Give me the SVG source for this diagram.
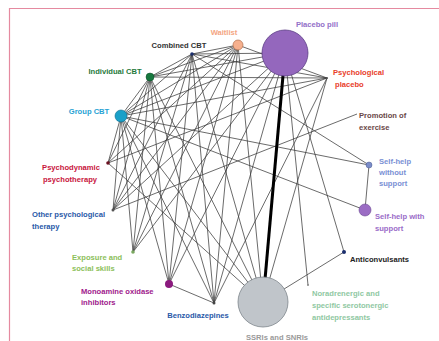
<svg xmlns="http://www.w3.org/2000/svg" width="439" height="341" viewBox="0 0 439 341">
<style>
.e{stroke:#3a3a3a;stroke-width:0.75;fill:none}
.t{font-family:"Liberation Sans",Arial,sans-serif;font-size:7.6px;font-weight:bold}
.c{text-anchor:middle}
</style>
<rect x="0" y="0" width="439" height="341" fill="#ffffff"/>
<path d="M9.5 341 V8.5 H439" fill="none" stroke="#e58aa0" stroke-width="1.2"/>
<g id="connectors">
<line class="e" x1="238" y1="45" x2="192" y2="54"/>
<line class="e" x1="238" y1="45" x2="150" y2="77"/>
<line class="e" x1="238" y1="45" x2="121" y2="116"/>
<line class="e" x1="238" y1="45" x2="108" y2="163"/>
<line class="e" x1="238" y1="45" x2="113" y2="210"/>
<line class="e" x1="238" y1="45" x2="133" y2="252"/>
<line class="e" x1="238" y1="45" x2="169" y2="284"/>
<line class="e" x1="238" y1="45" x2="214" y2="303"/>
<line class="e" x1="238" y1="45" x2="263" y2="302"/>
<line class="e" x1="238" y1="45" x2="327" y2="78"/>
<line class="e" x1="192" y1="54" x2="150" y2="77"/>
<line class="e" x1="192" y1="54" x2="121" y2="116"/>
<line class="e" x1="192" y1="54" x2="285" y2="53"/>
<line class="e" x1="192" y1="54" x2="327" y2="78"/>
<line class="e" x1="192" y1="54" x2="113" y2="210"/>
<line class="e" x1="192" y1="54" x2="133" y2="252"/>
<line class="e" x1="192" y1="54" x2="169" y2="284"/>
<line class="e" x1="192" y1="54" x2="214" y2="303"/>
<line class="e" x1="192" y1="54" x2="263" y2="302"/>
<line class="e" x1="192" y1="54" x2="369" y2="165"/>
<line class="e" x1="150" y1="77" x2="121" y2="116"/>
<line class="e" x1="150" y1="77" x2="285" y2="53"/>
<line class="e" x1="150" y1="77" x2="327" y2="78"/>
<line class="e" x1="150" y1="77" x2="108" y2="163"/>
<line class="e" x1="150" y1="77" x2="113" y2="210"/>
<line class="e" x1="150" y1="77" x2="133" y2="252"/>
<line class="e" x1="150" y1="77" x2="169" y2="284"/>
<line class="e" x1="150" y1="77" x2="214" y2="303"/>
<line class="e" x1="150" y1="77" x2="263" y2="302"/>
<line class="e" x1="121" y1="116" x2="285" y2="53"/>
<line class="e" x1="121" y1="116" x2="327" y2="78"/>
<line class="e" x1="121" y1="116" x2="108" y2="163"/>
<line class="e" x1="121" y1="116" x2="113" y2="210"/>
<line class="e" x1="121" y1="116" x2="133" y2="252"/>
<line class="e" x1="121" y1="116" x2="169" y2="284"/>
<line class="e" x1="121" y1="116" x2="214" y2="303"/>
<line class="e" x1="121" y1="116" x2="263" y2="302"/>
<line class="e" x1="121" y1="116" x2="365" y2="210"/>
<line class="e" x1="121" y1="116" x2="369" y2="165"/>
<line class="e" x1="108" y1="163" x2="327" y2="78"/>
<line class="e" x1="108" y1="163" x2="263" y2="302"/>
<line class="e" x1="113" y1="210" x2="357" y2="114"/>
<line class="e" x1="113" y1="210" x2="285" y2="53"/>
<line class="e" x1="133" y1="252" x2="285" y2="53"/>
<line class="e" x1="169" y1="284" x2="285" y2="53"/>
<line class="e" x1="169" y1="284" x2="214" y2="303"/>
<line class="e" x1="214" y1="303" x2="285" y2="53"/>
<line class="e" x1="214" y1="303" x2="327" y2="78"/>
<line class="e" x1="263" y1="302" x2="327" y2="78"/>
<line class="e" x1="285" y1="53" x2="344" y2="252"/>
<line class="e" x1="285" y1="53" x2="308" y2="285"/>
<line class="e" x1="263" y1="302" x2="344" y2="252"/>
<line class="e" x1="369" y1="165" x2="365" y2="210"/>
<line x1="285" y1="53" x2="263" y2="302" stroke="#000" stroke-width="3"/>
</g>
<g id="placebo-pill"><circle cx="285" cy="53" r="23" fill="#9467bd" stroke="#5c3d85" stroke-width="0.8"/><text class="t c" x="317" y="27" fill="#9370c8">Placebo pill</text></g>
<g id="waitlist"><circle cx="238" cy="45" r="5" fill="#f6b08e" stroke="#b0704e" stroke-width="0.7"/><text class="t c" x="224" y="35" fill="#f4a582">Waitlist</text></g>
<g id="combined-cbt"><circle cx="192" cy="54" r="1.8" fill="#1c2f6e"/><text class="t c" x="179" y="48" fill="#333333">Combined CBT</text></g>
<g id="individual-cbt"><circle cx="150" cy="77" r="4" fill="#16783e" stroke="#0c4a26" stroke-width="0.5"/><text class="t c" x="115" y="74" fill="#1f7a3c">Individual CBT</text></g>
<g id="group-cbt"><circle cx="121" cy="116" r="6" fill="#1aa0c8" stroke="#0b6a8a" stroke-width="0.6"/><text class="t c" x="89" y="114" fill="#27a2d4">Group CBT</text></g>
<g id="psychodynamic"><circle cx="108" cy="163" r="1.8" fill="#6a1020"/><text class="t c" x="71" y="170" fill="#c8143c">Psychodynamic</text><text class="t c" x="70" y="182" fill="#c8143c">psychotherapy</text></g>
<g id="other-psych"><circle cx="113" cy="210" r="1.5" fill="#555"/><text class="t" x="32" y="217" fill="#2a5aa8">Other psychological</text><text class="t" x="32" y="229" fill="#2a5aa8">therapy</text></g>
<g id="exposure"><circle cx="133" cy="252" r="1.8" fill="#7aa860"/><text class="t" x="72" y="260" fill="#8cc05a">Exposure and</text><text class="t" x="72" y="271" fill="#8cc05a">social skills</text></g>
<g id="maoi"><circle cx="169" cy="284" r="4" fill="#8b1a7e"/><text class="t" x="81" y="294" fill="#a0208c">Monoamine oxidase</text><text class="t" x="81" y="305" fill="#a0208c">inhibitors</text></g>
<g id="benzodiazepines"><circle cx="214" cy="303" r="1.5" fill="#444"/><text class="t c" x="198" y="318" fill="#2a5aa8">Benzodiazepines</text></g>
<g id="ssris"><circle cx="263" cy="302" r="25" fill="#c0c5ca" stroke="#7d858c" stroke-width="0.8"/><text class="t c" x="277" y="340" fill="#9a9a9a">SSRIs and SNRIs</text></g>
<g id="nassa"><circle cx="308" cy="285" r="1" fill="#888"/><text class="t" x="312" y="296" fill="#8fc8a2">Noradrenergic and</text><text class="t" x="312" y="308" fill="#8fc8a2">specific serotonergic</text><text class="t" x="312" y="320" fill="#8fc8a2">antidepressants</text></g>
<g id="anticonvulsants"><circle cx="344" cy="252" r="2" fill="#1c2f6e"/><text class="t" x="350" y="262" fill="#222222">Anticonvulsants</text></g>
<g id="self-help-with"><circle cx="365" cy="210" r="6" fill="#9b6cc4" stroke="#6a4690" stroke-width="0.6"/><text class="t" x="375" y="219" fill="#9a6cc8">Self-help with</text><text class="t" x="375" y="231" fill="#9a6cc8">support</text></g>
<g id="self-help-without"><circle cx="369" cy="165" r="3" fill="#7a8cc8" stroke="#4a5a90" stroke-width="0.5"/><text class="t" x="379" y="164" fill="#7a90d4">Self-help</text><text class="t" x="379" y="175" fill="#7a90d4">without</text><text class="t" x="379" y="186" fill="#7a90d4">support</text></g>
<g id="promotion-exercise"><text class="t" x="359" y="118" fill="#6a4848">Promotion of</text><text class="t" x="359" y="130" fill="#6a4848">exercise</text></g>
<g id="psych-placebo"><circle cx="327" cy="78" r="1" fill="#555"/><text class="t" x="333" y="75" fill="#e8402a">Psychological</text><text class="t" x="335" y="87" fill="#e8402a">placebo</text></g>
</svg>
